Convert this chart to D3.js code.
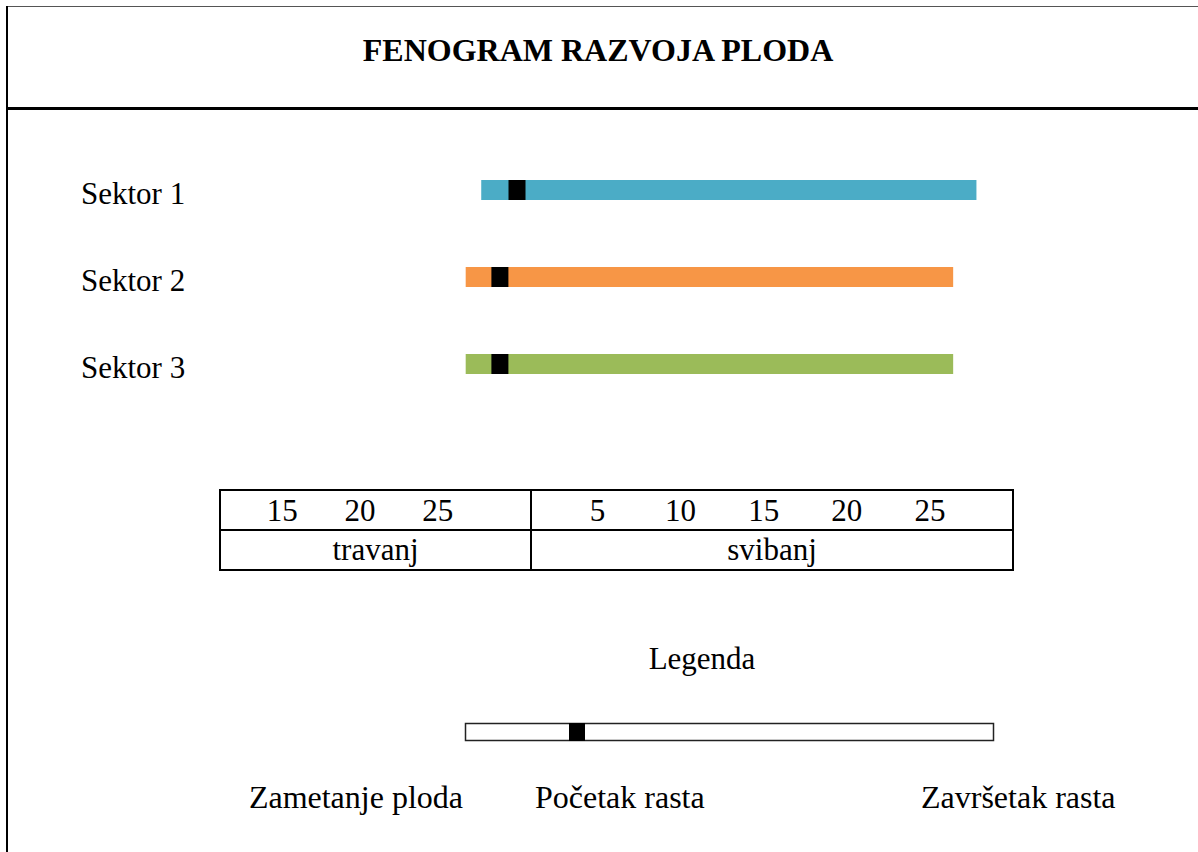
<!doctype html>
<html>
<head>
    <meta charset="utf-8"/>
    <style>
        html, body {
          margin: 0;
          padding: 0;
          background: #fff;
        }
        svg {
          display: block;
          font-family: "Liberation Serif", "Times New Roman", serif;
        }
        .frame line, .table line, .table rect {
          shape-rendering: crispEdges;
        }
    </style>
    <script src="https://d3js.org/d3.v7.min.js"></script>
</head>
<body>

<svg width="1198" height="852"></svg>

<script>
    // Days are counted from 1 April (1 May = 31)
    var sectors     = ["Sektor 1", "Sektor 2", "Sektor 3"];
    var fruitSet    = [27.8, 26.8, 26.8];   // Zametanje ploda
    var growthStart = [30.1, 29.0, 29.0];   // Početak rasta
    var growthEnd   = [57.8, 56.4, 56.4];   // Završetak rasta
    var colours     = ["#4bacc6", "#f79646", "#9bbb59"];

    var months      = ["travanj", "svibanj"];
    var aprilTicks  = [15, 20, 25];
    var mayTicks    = [5, 10, 15, 20, 25];
    var legendLabels = ["Zametanje ploda", "Početak rasta", "Završetak rasta"];

    var svg = d3.select("svg");
    var W = 1198, H = 852;

    // frame around the page
    var frame = svg.append("g").attr("class", "frame");
    frame.append("line").attr("x1", 6).attr("x2", W).attr("y1", 6.5).attr("y2", 6.5)
        .attr("stroke", "#555").attr("stroke-width", 1.5);
    frame.append("line").attr("x1", 7).attr("x2", 7).attr("y1", 6).attr("y2", H)
        .attr("stroke", "#000").attr("stroke-width", 2);
    frame.append("line").attr("x1", 6).attr("x2", W).attr("y1", 108).attr("y2", 108)
        .attr("stroke", "#000").attr("stroke-width", 3);

    svg.append("text")
        .attr("x", 598).attr("y", 61)
        .attr("text-anchor", "middle")
        .attr("font-size", 32).attr("font-weight", "bold")
        .text("FENOGRAM RAZVOJA PLODA");

    // scales: the table has one column per month, so the time axis is
    // linear within each month (April: day 11..31, May: 31..60)
    var x = d3.scaleLinear().domain([11, 31, 60]).range([220, 531, 1013]);
    var y = d3.scalePoint().domain(sectors).range([190, 364]);
    var barH = 20, markW = 17;

    var rows = sectors.map(function(s, i) {
        return { name: s, set: fruitSet[i], start: growthStart[i], end: growthEnd[i], colour: colours[i] };
    });

    var row = svg.append("g").selectAll("g").data(rows).enter().append("g");

    row.append("text")
        .attr("x", 81)
        .attr("y", function(d) { return y(d.name) + 14; })
        .attr("font-size", 31)
        .text(function(d) { return d.name; });

    row.append("rect")
        .attr("x", function(d) { return x(d.set); })
        .attr("width", function(d) { return x(d.end) - x(d.set); })
        .attr("y", function(d) { return y(d.name) - barH / 2; })
        .attr("height", barH)
        .attr("fill", function(d) { return d.colour; });

    row.append("rect")
        .attr("x", function(d) { return x(d.start) - markW / 2; })
        .attr("width", markW)
        .attr("y", function(d) { return y(d.name) - barH / 2; })
        .attr("height", barH)
        .attr("fill", "#000");

    // date table (acts as the x axis)
    var tTop = 490, tMid = 530, tBot = 570;
    var table = svg.append("g").attr("class", "table");
    var x0 = x(11), x1 = x(60), xm = x(31);

    table.append("rect")
        .attr("x", x0).attr("y", tTop)
        .attr("width", x1 - x0).attr("height", tBot - tTop)
        .attr("fill", "none").attr("stroke", "#000").attr("stroke-width", 1.5);
    table.append("line").attr("x1", x0).attr("x2", x1).attr("y1", tMid).attr("y2", tMid)
        .attr("stroke", "#000").attr("stroke-width", 1.5);
    table.append("line").attr("x1", xm).attr("x2", xm).attr("y1", tTop).attr("y2", tBot)
        .attr("stroke", "#000").attr("stroke-width", 1.5);

    var ticks = aprilTicks.map(function(d) { return { day: d, label: d }; })
        .concat(mayTicks.map(function(d) { return { day: d + 30, label: d }; }));

    table.selectAll("text.tick").data(ticks).enter().append("text")
        .attr("class", "tick")
        .attr("x", function(d) { return x(d.day); })
        .attr("y", tMid - 9)
        .attr("text-anchor", "middle")
        .attr("font-size", 31)
        .text(function(d) { return d.label; });

    var monthSpans = [[x0, xm], [xm, x1]];
    table.selectAll("text.month").data(months).enter().append("text")
        .attr("class", "month")
        .attr("x", function(d, i) { return (monthSpans[i][0] + monthSpans[i][1]) / 2; })
        .attr("y", tBot - 10)
        .attr("text-anchor", "middle")
        .attr("font-size", 31)
        .text(function(d) { return d; });

    // legend
    svg.append("text")
        .attr("x", 702).attr("y", 669)
        .attr("text-anchor", "middle")
        .attr("font-size", 31)
        .text("Legenda");

    var lg = svg.append("g");
    lg.append("rect")
        .attr("x", 465.5).attr("y", 723.5)
        .attr("width", 528).attr("height", 17)
        .attr("fill", "#fff").attr("stroke", "#222").attr("stroke-width", 1.5);
    lg.append("rect")
        .attr("x", 569).attr("y", 723)
        .attr("width", 16).attr("height", 18)
        .attr("fill", "#000");

    var legendPos = [{ x: 463, anchor: "end" }, { x: 535, anchor: "start" }, { x: 921, anchor: "start" }];
    lg.selectAll("text").data(legendLabels).enter().append("text")
        .attr("x", function(d, i) { return legendPos[i].x; })
        .attr("y", 808)
        .attr("text-anchor", function(d, i) { return legendPos[i].anchor; })
        .attr("font-size", 32)
        .text(function(d) { return d; });
</script>

</body>
</html>
